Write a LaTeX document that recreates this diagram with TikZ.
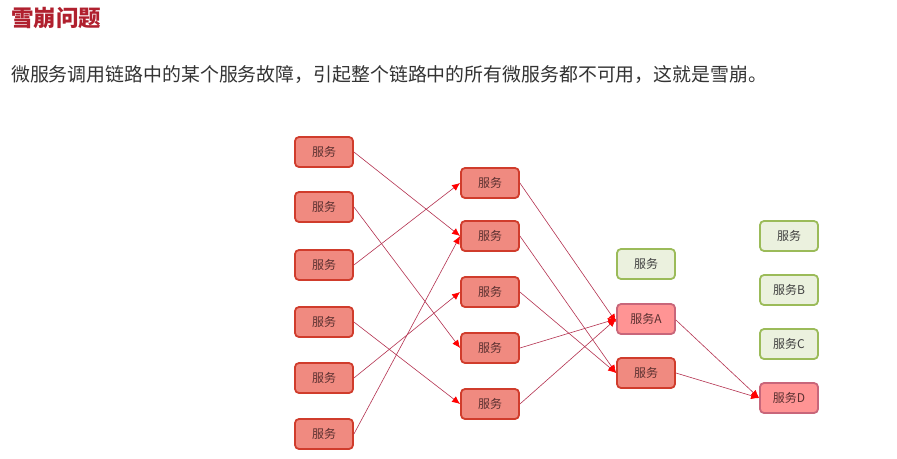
\documentclass[tikz,border=0pt]{standalone}
\usepackage{fontspec}
\setmainfont{Noto Sans CJK SC}
\usetikzlibrary{arrows.meta}
\definecolor{titlered}{HTML}{B0202E}
\definecolor{bodytext}{HTML}{333333}
\definecolor{redfill}{HTML}{F08A80}
\definecolor{redborder}{HTML}{D03C2C}
\definecolor{pinkfill}{HTML}{FF9494}
\definecolor{pinkborder}{HTML}{C8667A}
\definecolor{greenfill}{HTML}{EBF1DE}
\definecolor{greenborder}{HTML}{9BBB59}
\definecolor{linkred}{HTML}{B43250}
\definecolor{boxtext}{HTML}{5A3030}
\tikzset{
  svc/.style={rectangle, rounded corners=4pt, minimum width=58pt, minimum height=30pt,
    inner sep=0pt, line width=1.8pt, font=\fontsize{12pt}{13pt}\selectfont},
  redbox/.style={svc, fill=redfill, draw=redborder, text=boxtext},
  pinkbox/.style={svc, fill=pinkfill, draw=pinkborder, text=boxtext},
  greenbox/.style={svc, fill=greenfill, draw=greenborder, text=black!75},
  link/.style={draw=linkred, line width=0.6pt, -{Latex[length=8pt,width=7pt,color=red]}}
}
\begin{document}
\begin{tikzpicture}[x=1pt,y=-1pt]
\useasboundingbox[fill=white] (0,0) rectangle (897,458);
\node[anchor=west, text=titlered, font=\fontsize{22.5pt}{24pt}\selectfont\bfseries, inner sep=0pt] (title) at (11,18) {雪崩问题};
\node[anchor=west, text=bodytext, font=\fontsize{18.9pt}{20pt}\selectfont, inner sep=0pt] (body) at (11,75) {微服务调用链路中的某个服务故障，引起整个链路中的所有微服务都不可用，这就是雪崩。};
% left column
\node[redbox] (L1) at (324,152) {服务};
\node[redbox] (L2) at (324,207) {服务};
\node[redbox] (L3) at (324,265) {服务};
\node[redbox] (L4) at (324,322) {服务};
\node[redbox] (L5) at (324,378) {服务};
\node[redbox] (L6) at (324,434) {服务};
% middle column
\node[redbox] (M1) at (490,183) {服务};
\node[redbox] (M2) at (490,236) {服务};
\node[redbox] (M3) at (490,292) {服务};
\node[redbox] (M4) at (490,348) {服务};
\node[redbox] (M5) at (490,404) {服务};
% third column
\node[greenbox] (G1) at (646,264) {服务};
\node[pinkbox] (A) at (646,319) {服务A};
\node[redbox] (R) at (646,373) {服务};
% fourth column
\node[greenbox] (K1) at (789,236) {服务};
\node[greenbox] (B) at (789,290) {服务B};
\node[greenbox] (C) at (789,344) {服务C};
\node[pinkbox] (D) at (789,398) {服务D};
% links
\draw[link] (L1.east) -- (M2.west);
\draw[link] (L2.east) -- (M4.west);
\draw[link] (L3.east) -- (M1.west);
\draw[link] (L4.east) -- (M5.west);
\draw[link] (L5.east) -- (M3.west);
\draw[link] (L6.east) -- (M2.west);
\draw[link] (M1.east) -- ([yshift=-3pt]A.west);
\draw[link] (M2.east) -- (R.west);
\draw[link] (M3.east) -- (R.west);
\draw[link] (M4.east) -- (A.west);
\draw[link] (M5.east) -- (A.west);
\draw[link] ([yshift=-1pt]A.east) -- (D.west);
\draw[link] (R.east) -- (D.west);
\end{tikzpicture}
\end{document}
